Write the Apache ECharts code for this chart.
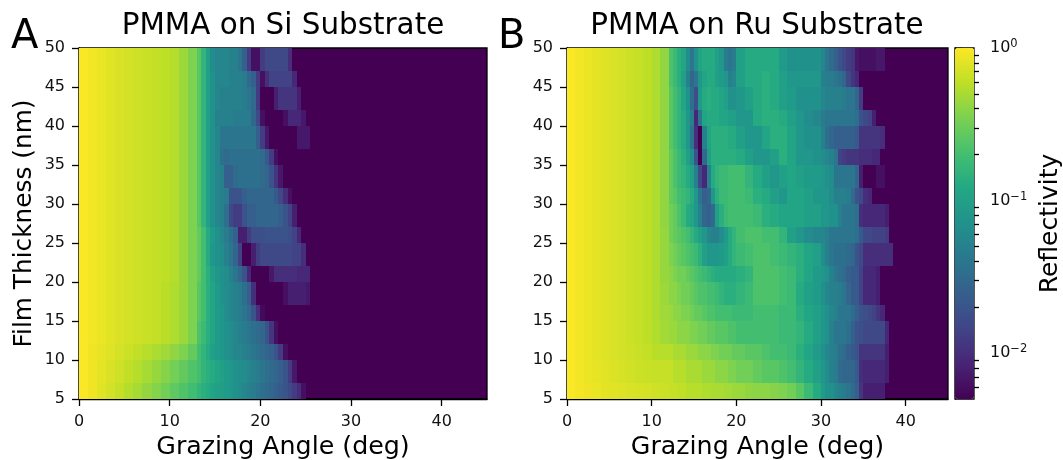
<!DOCTYPE html>
<html>
<head>
<meta charset="utf-8">
<style>html,body{margin:0;background:#fff}#main{width:1063px;height:460px}</style>
<script src="https://cdn.jsdelivr.net/npm/echarts@6/dist/echarts.min.js"></script>
</head>
<body>
<div id="main"></div>
<script>
// film thickness row edges (nm), top row first
var thicknessEdges = [50, 47, 45, 42, 40, 37, 35, 32, 30, 27, 25, 22, 20, 17, 15, 12, 10, 7, 5];

// grazing angle column edges (deg)
var anglesSi = [0,1,2,3,4,5,6,7,8,9,10,11,12,13,13.5,14,14.5,15,15.5,16,16.5,17,17.5,18,18.5,19,19.5,20,20.5,21,21.5,22,22.5,23,23.5,24,24.5,25,25.5,26];
var anglesRu = [0,1,2,3,4,5,6,7,8,9,10,11,12,12.5,13,13.5,14,14.5,15,15.5,16,16.5,17,17.5,18,18.5,19,19.5,20,21,22,23,24,25,26,27,28,29,30,30.5,31,31.5,32,32.5,33,33.5,34,34.5,35,35.5,36,36.5,37,37.5,38,38.5];

// reflectivity in dB (10*log10 R); a row stops where it hits the colour floor
var siRows = [
  [-0.1,-0.4,-0.7,-1,-1.3,-1.5,-1.7,-1.9,-2.1,-2.3,-2.6,-3.4,-4.5,-6,-8,-10,-12,-12.5,-12.5,-12.5,-13,-13,-14,-16,-19,-22,-22,-19,-18,-18,-18,-18,-18,-20],
  [-0.1,-0.4,-0.7,-1,-1.3,-1.5,-1.7,-1.9,-2.1,-2.3,-2.6,-3.4,-4.5,-6,-8,-10,-11.5,-12.5,-12.5,-12.5,-13,-13,-13,-13.5,-15,-16,-19,-22,-20,-18.5,-18.5,-18.5,-18.5,-18.5,-20.5],
  [-0.1,-0.4,-0.7,-1,-1.3,-1.5,-1.7,-1.9,-2.1,-2.3,-2.6,-3.4,-4.5,-6,-8,-10,-11.5,-12.5,-13,-13,-13,-13,-13,-13.5,-14,-15,-19,-23,-23,-23,-21,-19.5,-19.5,-19.5,-19.5,-21],
  [-0.1,-0.4,-0.7,-1,-1.3,-1.5,-1.7,-1.9,-2.1,-2.3,-2.6,-3.4,-4.5,-6,-8,-10,-11.5,-13,-13,-13,-13,-13.5,-13.5,-13.5,-13.5,-15.5,-18,-22,-23,-23,-23,-23,-22,-20.5,-20.5,-20.5,-21.5],
  [-0.1,-0.4,-0.7,-1,-1.3,-1.5,-1.7,-1.9,-2.1,-2.3,-2.6,-3.4,-4.5,-6,-8,-10,-11.5,-12.5,-14,-14,-14,-14,-14,-14,-14,-14,-16,-19,-21.5,-23,-23,-23,-23,-23,-23,-21.5,-21.5,-21.5],
  [-0.1,-0.4,-0.7,-1,-1.3,-1.5,-1.7,-1.9,-2.1,-2.3,-2.6,-3.4,-4.5,-6,-8,-10,-11.5,-12.5,-14.5,-15,-14.5,-14.5,-14.5,-14.5,-14.5,-14.5,-14.5,-15,-16.5,-19,-22],
  [-0.1,-0.4,-0.7,-1,-1.3,-1.5,-1.7,-1.9,-2.1,-2.3,-2.6,-3.4,-4.5,-6,-8,-10,-11.5,-12.5,-13,-16,-16,-15,-14.5,-14.5,-14.5,-14.5,-14.5,-15,-15.5,-17,-19.5,-21.5],
  [-0.1,-0.4,-0.7,-1,-1.3,-1.5,-1.7,-1.9,-2.1,-2.3,-2.6,-3.4,-4.5,-6,-8,-10,-11.5,-12.5,-13,-13.5,-17,-17,-17,-16,-15.5,-15.5,-15.5,-15.5,-15.5,-15.5,-16.5,-18,-20,-22],
  [-0.1,-0.4,-0.7,-1,-1.3,-1.5,-1.7,-1.9,-2.1,-2.3,-2.6,-3.4,-4.5,-6,-8,-10,-11.5,-12.5,-13,-14.5,-18,-19,-19,-17,-16,-16,-15.5,-15.5,-15.5,-15.5,-15.5,-16,-17,-18.5,-21],
  [-0.1,-0.4,-0.7,-1,-1.3,-1.5,-1.7,-1.9,-2.1,-2.3,-2.6,-3.4,-4.5,-5.5,-7,-9,-10.5,-11.5,-12.5,-13.5,-14.5,-16,-21,-21,-19,-17.5,-17.5,-17.5,-17,-17,-17,-17,-17,-17.5,-18.5,-20.5],
  [-0.1,-0.4,-0.7,-1,-1.3,-1.5,-1.7,-1.9,-2.1,-2.3,-2.6,-3.4,-4.5,-5.5,-7,-9,-11,-11.5,-12,-13,-14,-15.5,-18.5,-23,-23,-21,-19,-18,-18,-18,-18,-18,-18,-18,-18.5,-18.5,-20],
  [-0.1,-0.4,-0.7,-1,-1.3,-1.5,-1.7,-1.9,-2.1,-2.3,-2.6,-3.4,-4.5,-5.5,-7,-8.5,-10,-11,-11.5,-12,-13,-14,-15.5,-17,-20.5,-23,-23,-23,-23,-21.5,-20,-20,-20,-20,-20,-20.5,-20.5,-20.5],
  [-0.1,-0.4,-0.7,-1,-1.3,-1.5,-1.7,-1.9,-2.1,-2.4,-2.8,-3.4,-4.5,-6,-7,-8.5,-9.5,-10.5,-11.5,-12,-12.5,-13,-13.5,-14.5,-16,-20,-23,-23,-23,-23,-23,-23,-22,-21,-21,-21,-21,-21.5],
  [-0.1,-0.4,-0.7,-1,-1.3,-1.5,-1.7,-1.9,-2.1,-2.4,-2.8,-3.4,-4.5,-6,-7,-8.5,-9.5,-10.5,-11,-12,-12.5,-13,-13.5,-14,-15,-17,-20,-22.5],
  [-0.1,-0.4,-0.7,-1,-1.3,-1.5,-1.7,-1.9,-2.1,-2.4,-2.8,-3.4,-4.5,-6.5,-7.5,-8.5,-9.5,-10.5,-11,-11.5,-12,-12.5,-13,-13.5,-14,-14.5,-15,-15.5,-17,-19.5,-22],
  [-0.1,-0.5,-0.8,-1.1,-1.5,-1.8,-2.2,-2.5,-2.9,-3.3,-3.8,-4.5,-5.5,-7,-8,-9,-10,-10.5,-11,-11.5,-12,-12.5,-12.5,-13,-13.5,-14,-14.5,-15,-15.5,-16,-17,-19,-22],
  [-0.1,-0.5,-0.9,-1.3,-1.7,-2.2,-2.6,-3.1,-3.6,-4.2,-4.9,-5.6,-6.4,-7,-8,-8.5,-9,-9.5,-10,-10.5,-11,-11.5,-12,-12,-12.5,-13,-13.5,-14,-14.5,-15,-15.5,-16,-17,-19,-21.5],
  [-0.1,-0.5,-1,-1.5,-2,-2.6,-3.1,-3.7,-4.3,-5,-5.7,-6.4,-7.2,-8,-8.5,-9,-9.5,-10,-10.2,-10.5,-11,-11.5,-12,-12.5,-13,-13.5,-14,-14.5,-15,-15.5,-16,-16.5,-17,-18,-19,-20,-22]
];
var ruRows = [
  [-0.1,-0.4,-0.7,-0.9,-1.1,-1.3,-1.5,-1.8,-2,-2.3,-2.8,-3.8,-6.5,-7.5,-8.5,-9.5,-12,-14,-11.5,-9.5,-9,-9,-9,-10,-11,-13.5,-14,-13.5,-10,-9,-9,-9,-9,-10.5,-11.5,-11.5,-11.5,-11.5,-12.5,-14,-15,-16,-17,-18,-19,-19.5,-21.5,-22,-22,-22,-22,-21.5,-21.5],
  [-0.1,-0.4,-0.7,-0.9,-1.1,-1.3,-1.5,-1.8,-2,-2.3,-2.8,-3.8,-6.5,-7.5,-8.5,-10,-13,-15.5,-14,-11,-9.5,-9,-9,-10,-10.5,-11,-13,-12.5,-10,-9,-9,-8.5,-9,-10,-11,-11,-11,-11,-13,-13.5,-13.5,-14,-14.5,-15.5,-18,-19.5,-20.5],
  [-0.1,-0.4,-0.7,-0.9,-1.1,-1.3,-1.5,-1.8,-2,-2.3,-2.8,-3.8,-6,-7,-8,-9.5,-11.5,-14.5,-17.5,-10.5,-9,-8.5,-9,-9,-9.5,-10,-11.5,-11.5,-11,-10,-9,-8.5,-9,-10,-10.5,-11.5,-11.5,-11.5,-12.5,-13,-13,-13,-13,-13.5,-14,-14,-15.5,-19],
  [-0.1,-0.4,-0.7,-0.9,-1.1,-1.3,-1.5,-1.8,-2,-2.3,-2.8,-3.8,-6,-7,-8,-9,-11,-13,-20.5,-14,-9.5,-9,-9,-9,-9.5,-9.5,-10,-10,-11,-11,-9,-8.5,-8.5,-9,-10,-11,-12,-12.5,-13.5,-14,-14,-14,-14,-14,-14,-14,-14.5,-17,-18,-18.5,-21],
  [-0.1,-0.4,-0.7,-0.9,-1.1,-1.3,-1.5,-1.8,-2,-2.3,-2.8,-3.8,-6,-7,-8,-9,-11,-14,-20,-23,-13,-9.5,-8.5,-8.5,-8.5,-8.5,-9,-9,-10,-11,-11,-9.5,-8.5,-8.5,-9.5,-11,-11.5,-11.5,-13,-14.5,-15.5,-16,-16,-16,-16,-16,-16.5,-19.5,-19.5,-19.5,-19.5,-19.5,-20],
  [-0.1,-0.4,-0.7,-0.9,-1.1,-1.3,-1.5,-1.8,-2,-2.3,-2.8,-3.8,-5.5,-6.5,-7.5,-8.5,-10,-12,-17,-23,-15,-10,-8.5,-8.5,-8.5,-8.5,-8.5,-8.5,-9,-10,-11,-11,-10,-8.5,-9.5,-11,-11,-11.5,-12,-12.5,-13,-14,-18.5,-19,-19.5,-19.5,-19.5,-20,-20,-20,-20.5,-20.5],
  [-0.1,-0.4,-0.7,-0.9,-1.1,-1.3,-1.5,-1.8,-2,-2.3,-2.8,-3.8,-5.5,-6.5,-7.5,-8,-9,-10,-13,-18,-20.5,-13,-9,-8,-7.5,-7.5,-7,-7,-7,-8,-9,-10,-11,-10,-9.5,-10,-10.5,-10.5,-11,-11.5,-12,-14,-14,-14,-14,-14,-15.5,-21,-23,-23,-23,-22,-22],
  [-0.1,-0.4,-0.7,-0.9,-1.1,-1.3,-1.5,-1.8,-2,-2.3,-2.8,-3.8,-5.5,-6,-7,-7.5,-8,-9,-11,-14,-16,-15.5,-11,-8.5,-7.5,-7.5,-7,-7,-7,-7.5,-8.5,-9,-10,-11,-9.5,-9.5,-10,-11,-11,-11,-12,-13,-13,-13,-13.5,-15,-17,-18,-20,-20.5],
  [-0.1,-0.4,-0.7,-0.9,-1.1,-1.3,-1.5,-1.8,-2,-2.3,-2.8,-3.8,-5,-5.5,-6.5,-7.5,-9,-9.5,-11,-13,-15.5,-16,-15,-10,-8.5,-7.5,-7,-7,-7,-7,-7.5,-8.5,-9,-9.5,-9.5,-9.5,-10,-10,-11,-11,-11.5,-11.5,-13,-14,-14,-14,-14.5,-20,-20.5,-20.5,-20.5,-20.5,-20.5,-21],
  [-0.1,-0.4,-0.7,-0.9,-1.1,-1.3,-1.5,-1.8,-2,-2.3,-2.8,-3.6,-5,-5.5,-6,-6.5,-7,-8,-9,-10,-11,-12.5,-13,-13,-12,-10.5,-9,-8,-7,-6.5,-6.5,-7,-7,-8,-10,-11,-12,-12.5,-12.5,-13,-14,-14,-14,-14,-14,-14,-14.5,-16.5,-18,-18,-18.5,-18.5,-18.5,-19],
  [-0.1,-0.4,-0.7,-0.9,-1.1,-1.3,-1.5,-1.8,-2,-2.3,-2.8,-3.6,-4.5,-5,-5.5,-6,-6.5,-7,-7.5,-8.5,-10,-11,-11,-11,-10.5,-10,-9,-8,-7.5,-7,-6.5,-6.5,-7,-7.5,-8,-8.5,-9.5,-10,-12,-13,-14,-14.5,-14.5,-14.5,-15,-15.5,-17,-18,-20,-20,-20,-20,-20,-20,-20],
  [-0.1,-0.4,-0.7,-0.9,-1.1,-1.3,-1.5,-1.8,-2,-2.3,-2.8,-3.6,-4,-4.5,-5,-5,-5.5,-6,-6.5,-7,-7.5,-8,-8.5,-9,-9,-9,-9,-9,-8.5,-8,-6.5,-6.5,-6.5,-7,-7.5,-8.5,-9.5,-10.5,-11,-11.5,-13,-14,-14.5,-15,-16,-16.5,-16.5,-18.5,-20.5,-20.5,-20.5,-21],
  [-0.1,-0.4,-0.7,-0.9,-1.1,-1.3,-1.5,-1.8,-2,-2.3,-2.8,-3.4,-4,-4,-4.5,-5,-5,-5.5,-6,-6.5,-6.5,-7,-7,-7.5,-8,-8.5,-8.5,-8.5,-8,-7.5,-6.5,-6.5,-6.5,-7,-7.5,-9,-10,-10.5,-11.5,-12.5,-13,-13,-13.5,-14,-15.5,-16.5,-16.5,-18.5,-20.5,-20.5,-20.5,-21],
  [-0.1,-0.4,-0.7,-0.9,-1.1,-1.3,-1.5,-1.8,-2,-2.3,-2.8,-3.3,-3.5,-4,-4,-4.5,-4.5,-5,-5.5,-5.5,-6,-6.5,-6.5,-7,-7,-7,-7,-7.5,-7.5,-7.5,-7,-7,-7,-7.5,-7.5,-8.5,-9.5,-10,-11,-11.5,-12.5,-13,-14,-14,-14,-15,-16,-17,-17.5,-18,-18.5,-19.5,-20.5],
  [-0.1,-0.4,-0.7,-0.9,-1.1,-1.3,-1.5,-1.8,-2,-2.3,-2.7,-3.2,-3.5,-3.5,-4,-4,-4,-4.5,-4.5,-5,-5,-5.5,-5.5,-6,-6,-6,-6.5,-6.5,-7,-7,-7,-7,-7,-7.5,-7.5,-8,-9,-10,-11,-11.5,-13,-14,-14,-14,-14.5,-16,-17,-17.5,-18,-18,-18,-18,-18,-20.5],
  [-0.1,-0.4,-0.7,-0.9,-1.1,-1.3,-1.5,-1.7,-1.9,-2.1,-2.4,-2.5,-2.5,-3,-3,-3,-3.5,-3.5,-3.5,-4,-4,-4,-4.5,-4.5,-5,-5,-5,-5.5,-5.5,-6,-6,-6.5,-7,-7,-7.5,-8.5,-9.5,-10.5,-11.5,-12.5,-13,-13.5,-14.5,-15,-16,-16.5,-17,-19.5,-19.5,-19.5,-19.5,-19.5,-19.5,-21],
  [-0.1,-0.4,-0.6,-0.8,-1,-1.2,-1.4,-1.6,-1.8,-1.9,-2,-2,-2,-2.5,-2.5,-2.5,-3,-3,-3,-3,-3.5,-3.5,-3.5,-4,-4,-4,-4.5,-4.5,-5,-5,-5.5,-6,-6,-6.5,-7,-8,-9,-10,-11,-12,-13,-13.5,-15,-15.5,-15.5,-15.5,-16.5,-20,-20.5,-20.5,-20.5,-20.5,-20.5,-21],
  [-0.1,-0.3,-0.5,-0.7,-0.9,-1,-1.1,-1.3,-1.4,-1.5,-1.7,-1.8,-2,-2,-2.2,-2.2,-2.5,-2.5,-2.5,-2.5,-2.8,-2.8,-3,-3,-3,-3.2,-3.2,-3.5,-3.5,-3.8,-4,-4,-4.2,-4.5,-5,-6,-7.5,-9,-10.5,-11.5,-11.5,-12.5,-13,-13.5,-14,-15,-16,-19.5,-21,-21,-21,-21,-21]
];

// colour bar
var floorDb = -23;
var viridis = ['#440154','#482475','#414487','#355f8d','#2a788e','#21918c','#22a884','#44bf70','#7ad151','#bddf26','#fde725'];
var xTicks = [0, 10, 20, 30, 40];
var cbarMajor = [0.01, 0.1, 1];
var cbarMinor = [0.006,0.007,0.008,0.009,0.02,0.03,0.04,0.05,0.06,0.07,0.08,0.09,0.2,0.3,0.4,0.5,0.6,0.7,0.8,0.9];

function buildCells(rows, angles) {
  var cells = [];
  for (var i = 0; i < rows.length; i++) {
    for (var j = 0; j < rows[i].length; j++) {
      cells.push([angles[j], angles[j + 1], thicknessEdges[i + 1], thicknessEdges[i], rows[i][j]]);
    }
  }
  return cells;
}

function renderCell(params, api) {
  var a = api.coord([api.value(0), api.value(3)]);
  var b = api.coord([api.value(1), api.value(2)]);
  var x = Math.round(a[0]), y = Math.round(a[1]);
  return {
    type: 'rect',
    shape: { x: x, y: y, width: Math.round(b[0]) - x, height: Math.round(b[1]) - y },
    style: { fill: api.visual('color') }
  };
}

var font = 'DejaVu Sans';
var line = { color: '#000', width: 1.3 };

function angleAxis(idx) {
  return {
    gridIndex: idx, type: 'value', min: 0, max: 45,
    name: 'Grazing Angle (deg)', nameLocation: 'middle', nameGap: 35,
    nameTextStyle: { fontFamily: font, fontSize: 25.3, color: '#000' },
    axisLine: { lineStyle: line },
    axisTick: { length: 7, lineStyle: line, customValues: xTicks },
    axisLabel: { fontFamily: font, fontSize: 16, color: '#111', margin: 15, customValues: xTicks },
    splitLine: { show: false }
  };
}
function thicknessAxis(idx) {
  var ax = {
    gridIndex: idx, type: 'value', min: 5, max: 50, interval: 5,
    axisLine: { lineStyle: line },
    axisTick: { length: 7, lineStyle: line },
    axisLabel: { fontFamily: font, fontSize: 16, color: '#111', margin: 14 },
    splitLine: { show: false }
  };
  if (idx == 0) {
    ax.name = 'Film Thickness (nm)';
    ax.nameLocation = 'middle';
    ax.nameGap = 42;
    ax.nameTextStyle = { fontFamily: font, fontSize: 24.8, color: '#000' };
  }
  return ax;
}
function toLog(v) { return Math.log10(v); }

var plotGrid = { top: 48, height: 351, outerBoundsMode: 'none', show: true, backgroundColor: '#440154', borderColor: '#000', borderWidth: 1.3 };
var chart = echarts.init(document.getElementById('main'), null, { renderer: 'canvas' });
chart.setOption({
  animation: false,
  backgroundColor: '#fff',
  title: [
    { text: 'PMMA on Si Substrate', left: 278, top: 7, textAlign: 'center', textStyle: { fontFamily: font, fontSize: 29.4, fontWeight: 'normal', color: '#000' } },
    { text: 'PMMA on Ru Substrate', left: 752, top: 7, textAlign: 'center', textStyle: { fontFamily: font, fontSize: 29.4, fontWeight: 'normal', color: '#000' } },
    { text: 'A', left: 6, top: 13, textStyle: { fontFamily: font, fontSize: 40, fontWeight: 'normal', color: '#000' } },
    { text: 'B', left: 493, top: 13, textStyle: { fontFamily: font, fontSize: 40, fontWeight: 'normal', color: '#000' } }
  ],
  grid: [
    Object.assign({ left: 79, width: 408 }, plotGrid),
    Object.assign({ left: 567, width: 381 }, plotGrid),
    { left: 955, width: 19, top: 48, height: 351, outerBoundsMode: 'none', show: true, backgroundColor: 'transparent', borderColor: '#000', borderWidth: 1.3 }
  ],
  xAxis: [
    angleAxis(0),
    angleAxis(1),
    { gridIndex: 2, type: 'value', min: 0, max: 1, show: false }
  ],
  yAxis: [
    thicknessAxis(0),
    thicknessAxis(1),
    {
      gridIndex: 2, type: 'value', position: 'right', min: floorDb / 10, max: 0,
      name: 'Reflectivity', nameLocation: 'middle', nameGap: 64, nameRotate: 90,
      nameTextStyle: { fontFamily: font, fontSize: 25, color: '#000' },
      axisLine: { lineStyle: line },
      axisTick: { length: 7.5, lineStyle: line, customValues: cbarMajor.map(toLog) },
      axisLabel: {
        margin: 16, color: '#111', customValues: cbarMajor.map(toLog),
        formatter: function (v) { return '{b|10}{s|' + String(Math.round(v)).replace('-', '\u2212') + '}'; },
        rich: {
          b: { fontFamily: font, fontSize: 16, color: '#111' },
          s: { fontFamily: font, fontSize: 11.5, color: '#111', padding: [0, 0, 8, 0] }
        }
      },
      splitLine: { show: false }
    },
    {
      gridIndex: 2, type: 'value', position: 'right', min: floorDb / 10, max: 0,
      axisLine: { show: false },
      axisTick: { length: 5, lineStyle: line, customValues: cbarMinor.map(toLog) },
      axisLabel: { show: false },
      splitLine: { show: false }
    }
  ],
  visualMap: {
    type: 'continuous', seriesIndex: [0, 1], dimension: 4, min: floorDb, max: 0,
    left: 955, top: 48, itemWidth: 19, itemHeight: 351, padding: 0,
    calculable: false, hoverLink: false, text: null, showLabel: false,
    inRange: { color: viridis }
  },
  series: [
    { type: 'custom', xAxisIndex: 0, yAxisIndex: 0, renderItem: renderCell, data: buildCells(siRows, anglesSi), encode: { x: [0, 1], y: [2, 3] }, silent: true, clip: true },
    { type: 'custom', xAxisIndex: 1, yAxisIndex: 1, renderItem: renderCell, data: buildCells(ruRows, anglesRu), encode: { x: [0, 1], y: [2, 3] }, silent: true, clip: true }
  ]
});
</script>
</body>
</html>
